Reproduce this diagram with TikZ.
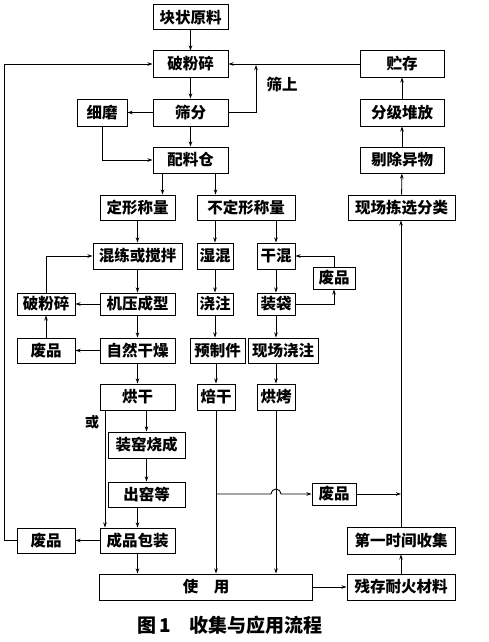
\documentclass[tikz,border=0pt]{standalone}
\usepackage{fontspec}
\newfontfamily\cjk{Noto Sans CJK SC}
\usepackage{tikz}
\usetikzlibrary{positioning, arrows.meta}

\tikzset{
  box/.style={draw, line width=1pt, inner sep=0pt, minimum height=25pt,
    font=\cjk\bfseries\fontsize{15.5}{16}\selectfont},
  flow/.style={line width=0.9pt, -{Stealth[length=5pt,width=3.5pt]}},
  link/.style={line width=0.9pt},
}

\begin{document}
\begin{tikzpicture}[x=1pt, y=-1pt]
\useasboundingbox (0,0) rectangle (489,642);

% raw material side
\node[box, minimum width=75pt] (raw) at (190.5,17.5) {块状原料};
\node[box, minimum width=75pt, minimum height=26pt] (crush) at (190.5,64) {破粉碎};
\node[box, minimum width=50pt, minimum height=27pt] (fine) at (102,112.5) {细磨};
\node[box, minimum width=75pt, minimum height=27pt] (sieve) at (190.5,112.5) {筛分};
\node[box, minimum width=75pt, minimum height=26pt] (batch) at (190.5,160) {配料仓};

% recycling column
\node[box, minimum width=84pt, minimum height=26pt] (store) at (402,64) {贮存};
\node[box, minimum width=84pt, minimum height=27pt] (grade) at (402,112.5) {分级堆放};
\node[box, minimum width=84pt, minimum height=26pt] (remove) at (402,160) {剔除异物};
\node[box, minimum width=107pt] (sort) at (401.5,207.5) {现场拣选分类};

% shaped products
\node[box, minimum width=75pt] (shaped) at (137.5,207.5) {定形称量};
\node[box, minimum width=89pt, minimum height=26pt] (mix) at (137.5,256) {混练或搅拌};
\node[box, minimum width=58pt, minimum height=22pt] (crushb) at (46,304) {破粉碎};
\node[box, minimum width=75pt, minimum height=22pt] (press) at (137.5,304) {机压成型};
\node[box, minimum width=58pt] (wastea) at (46,350.5) {废品};
\node[box, minimum width=75pt] (dry) at (137.5,350.5) {自然干燥};
\node[box, minimum width=75pt, minimum height=26pt] (bake) at (137.5,397) {烘干};
\node[box, minimum width=77pt, minimum height=26pt] (kiln) at (146.5,445) {装窑烧成};
\node[box, minimum width=77pt] (unload) at (146.5,494.5) {出窑等};
\node[box, minimum width=75pt] (pack) at (137.5,540.5) {成品包装};
\node[box, minimum width=58pt] (wasteb) at (46,540.5) {废品};

% unshaped products
\node[box, minimum width=98pt] (unshaped) at (246,207.5) {不定形称量};
\node[box, minimum width=36pt, minimum height=26pt] (wetmix) at (215,256) {湿混};
\node[box, minimum width=38pt, minimum height=26pt] (drymix) at (276,256) {干混};
\node[box, minimum width=42pt, minimum height=22pt] (wastec) at (334,278) {废品};
\node[box, minimum width=36pt, minimum height=22pt] (pour) at (215,304) {浇注};
\node[box, minimum width=38pt, minimum height=22pt] (bag) at (276,304) {装袋};
\node[box, minimum width=55pt] (precast) at (217.5,350.5) {预制件};
\node[box, minimum width=70pt] (cast) at (283,350.5) {现场浇注};
\node[box, minimum width=38pt, minimum height=26pt] (bakeb) at (216,397) {焙干};
\node[box, minimum width=38pt, minimum height=26pt] (roast) at (276,397) {烘烤};
\node[box, minimum width=44pt, minimum height=22pt] (wasted) at (334,494) {废品};

% use and collection
\node[box, minimum width=213pt, minimum height=26pt] (use) at (206,587) {使　用};
\node[box, minimum width=108pt, minimum height=26pt] (residual) at (401,587) {残存耐火材料};
\node[box, minimum width=108pt, minimum height=27pt] (collect) at (401,540.5) {第一时间收集};

% labels
\node[font=\cjk\bfseries\fontsize{15.5}{16}\selectfont] (over) at (282,85) {筛上};
\node[font=\cjk\bfseries\fontsize{14}{15}\selectfont] (or) at (92,422) {或};
\node[font=\cjk\bfseries\fontsize{19}{20}\selectfont] (caption) at (230,625) {图\,1\quad 收集与应用流程};

% connectors, top part
\draw[flow] (raw) -- (crush);
\draw[flow] (crush) -- (sieve);
\draw[flow] (sieve) -- (fine);
\draw[flow] (sieve) -- (batch);
\draw[flow] (fine.south) |- (batch.west);
\draw[flow] (store) -- (crush);
\coordinate (ret) at (256,65);
\draw[flow] (sieve.east) -| (ret);
\draw[flow] (wasteb.west) -- ++(-12,0) |- (crush.west);
\draw[flow] ([xshift=-28pt]batch.south) -- ([xshift=-28pt]batch.south |- shaped.north);
\draw[flow] ([xshift=25pt]batch.south) -- ([xshift=25pt]batch.south |- unshaped.north);

% shaped line
\draw[flow] (shaped) -- (mix);
\draw[flow] (mix) -- (press);
\draw[flow] (press) -- (crushb);
\draw[flow] (crushb.north) |- (mix.west);
\draw[flow] (press) -- (dry);
\draw[flow] (dry) -- (wastea);
\draw[flow] (wastea) -- (crushb);
\draw[flow] (dry) -- (bake);
\draw[flow] (kiln.north |- bake.south) -- (kiln.north);
\draw[flow] (kiln) -- (unload);
\draw[flow] (pack.north |- unload.south) -- (pack.north);
\draw[flow] ([xshift=-32.5pt]bake.south) -- ([xshift=-32.5pt]bake.south |- pack.north);
\draw[flow] (pack) -- (wasteb);
\draw[flow] (pack.south) -- (pack.south |- use.north);

% unshaped line
\draw[flow] (wetmix.north |- unshaped.south) -- (wetmix.north);
\draw[flow] (drymix.north |- unshaped.south) -- (drymix.north);
\draw[flow] (wetmix) -- (pour);
\draw[flow] (pour.south) -- (pour.south |- precast.north);
\draw[flow] (bakeb.north |- precast.south) -- (bakeb.north);
\draw[flow] (drymix) -- (bag);
\draw[flow] (bag.south) -- (bag.south |- cast.north);
\draw[flow] (roast.north |- cast.south) -- (roast.north);
\draw[flow] (bag.east) -| (wastec.south);
\draw[flow] (wastec.north) |- (drymix.east);
\draw[flow] (bakeb.south) -- (bakeb.south |- use.north);
\draw[flow] (roast.south) -- (roast.south |- use.north);
\coordinate (jump) at (roast.south |- wasted.west);
\draw[flow] (bakeb.south |- wasted.west) -- ([xshift=-5pt]jump) arc (180:360:5) -- (wasted.west);

% collection loop
\draw[flow] (use) -- (residual);
\draw[flow] (residual) -- (collect);
\draw[flow] (collect.north) -- (collect.north |- sort.south);
\draw[flow] (wasted.east) -- (wasted.east -| collect.north);
\draw[flow] (sort) -- (remove);
\draw[flow] (remove) -- (grade);
\draw[flow] (grade) -- (store);
\end{tikzpicture}
\end{document}
